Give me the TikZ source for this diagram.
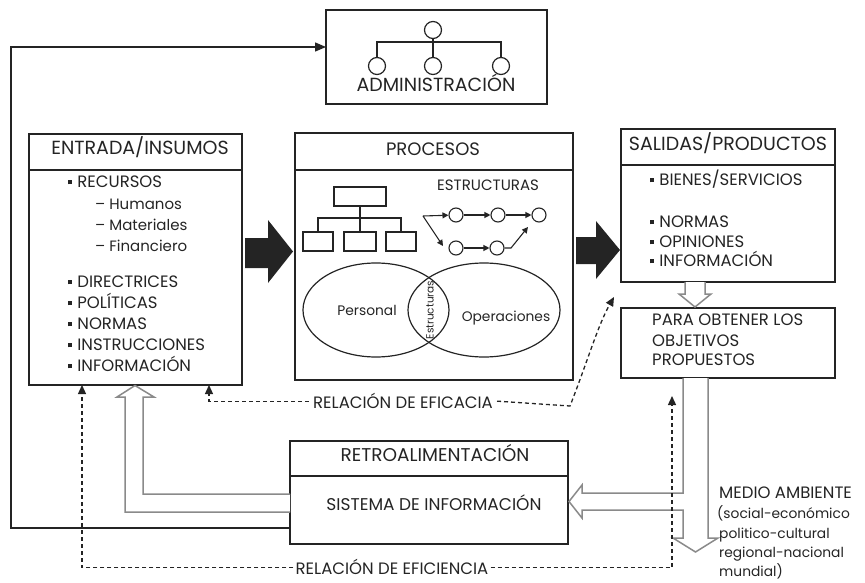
\documentclass[tikz,border=0pt]{standalone}
\usepackage{fontspec}
\setmainfont{Poppins}
\usetikzlibrary{arrows.meta,calc}
\definecolor{ink}{HTML}{242424}
\definecolor{hollowgray}{HTML}{8A8A8A}
\newcommand\sqbul{\raisebox{0.2em}{\rule{4.2pt}{4.2pt}}\hspace{5pt}}
\begin{document}
\begin{tikzpicture}[x=1pt,y=-1pt,
  panel/.style={draw=ink,line width=1.4pt,inner sep=0pt,outer sep=0pt},
  rule/.style={draw=ink,line width=1.4pt},
  title/.style={font=\fontsize{19}{19}\selectfont,text=ink,inner sep=0pt,anchor=mid},
  item/.style={font=\fontsize{16.5}{16.5}\selectfont,text=ink,inner sep=0pt,anchor=mid west},
  sub/.style={font=\fontsize{13.8}{13.8}\selectfont,text=ink,inner sep=0pt,anchor=mid west},
  res/.style={font=\fontsize{15}{15}\selectfont,text=ink,inner sep=0pt,anchor=mid west},
  lbl/.style={font=\fontsize{16.5}{16.5}\selectfont,text=ink,inner sep=0pt,anchor=mid},
  venn/.style={font=\fontsize{13.8}{13.8}\selectfont,text=ink,inner sep=0pt,anchor=mid},
  hollow/.style={draw=hollowgray,line width=1.5pt,fill=white,line join=miter},
  feed/.style={draw=ink,line width=1.3pt,-{Triangle[length=11pt,width=9pt]}},
  dl/.style={draw=ink,line width=1.3pt,dash pattern=on 4pt off 3pt,-{Triangle[length=9pt,width=8pt]}},
  chain/.style={draw=ink,line width=1.1pt,-{Triangle[length=6pt,width=6pt]}},
  ring/.style={circle,draw=ink,line width=1.1pt,minimum size=14pt,inner sep=0pt},
  bigring/.style={circle,draw=ink,line width=1.2pt,minimum size=17pt,inner sep=0pt},
  orgbox/.style={draw=ink,line width=1.1pt,inner sep=0pt},
  orgline/.style={draw=ink,line width=1.1pt}]
\useasboundingbox (0,0) rectangle (865,583);

% ---- main panels ----
\node[panel,minimum width=221pt,minimum height=94pt]  (admin)    at (436.5,57)   {};
\node[panel,minimum width=213pt,minimum height=251pt] (entrada)  at (135.5,259.5) {};
\node[panel,minimum width=278pt,minimum height=247pt] (procesos) at (434,256.5)  {};
\node[panel,minimum width=214pt,minimum height=153pt] (salidas)  at (728,205.5)  {};
\node[panel,minimum width=214pt,minimum height=70pt]  (metas)    at (728,343)    {};
\node[panel,minimum width=278pt,minimum height=103pt] (retro)    at (429,492.5)  {};

% header separators
\draw[rule] (entrada.west |- 0,170) -- (entrada.east |- 0,170);
\draw[rule] (procesos.west |- 0,170) -- (procesos.east |- 0,170);
\draw[rule] (salidas.west |- 0,165) -- (salidas.east |- 0,165);
\draw[rule] (retro.west |- 0,476) -- (retro.east |- 0,476);

% ---- titles ----
\node[title] (tAdmin) at (436,89)  {ADMINISTRACIÓN};
\node[title] (tEnt)   at (140,152) {ENTRADA/INSUMOS};
\node[title,font=\fontsize{18}{18}\selectfont] (tProc) at (433,153) {PROCESOS};
\node[title] (tSal)   at (728,148) {SALIDAS/PRODUCTOS};
\node[title,font=\fontsize{18.5}{18.5}\selectfont] (tRetro) at (435,459) {RETROALIMENTACIÓN};
\node[title,font=\fontsize{17}{17}\selectfont] (tSis) at (434,508) {SISTEMA DE INFORMACIÓN};

% ---- administration org chart ----
\node[bigring] (a0) at (433,30) {};
\node[bigring] (a1) at (377,66) {};
\node[bigring] (a2) at (433,66) {};
\node[bigring] (a3) at (501,66) {};
\draw[orgline] (a0) -- (a2);
\draw[orgline] (a1.north) -- (a1.north |- 0,42) -- (a3.north |- 0,42) -- (a3.north);

% ---- inputs list ----
\node[item] (e1) at (68,185) {\sqbul RECURSOS};
\node[res]  (e2) at (95,207) {– Humanos};
\node[res]  (e3) at (95,228) {– Materiales};
\node[res]  (e4) at (95,249) {– Financiero};
\node[item] (e5) at (68,285) {\sqbul DIRECTRICES};
\node[item] (e6) at (68,306) {\sqbul POLÍTICAS};
\node[item] (e7) at (68,327) {\sqbul NORMAS};
\node[item] (e8) at (68,348) {\sqbul INSTRUCCIONES};
\node[item] (e9) at (68,369) {\sqbul INFORMACIÓN};

% ---- outputs list ----
\node[item] (s1) at (650,183) {\sqbul BIENES/SERVICIOS};
\node[item] (s2) at (650,225) {\sqbul NORMAS};
\node[item] (s3) at (650,245) {\sqbul OPINIONES};
\node[item] (s4) at (650,264) {\sqbul INFORMACIÓN};

\node[item] (m1) at (652,323) {PARA OBTENER LOS};
\node[item] (m2) at (652,344) {OBJETIVOS};
\node[item] (m3) at (652,363) {PROPUESTOS};

% ---- process panel contents ----
\node[orgbox,minimum width=52pt,minimum height=19pt] (p0) at (360,196.5) {};
\node[orgbox,minimum width=30pt,minimum height=19pt] (p1) at (318,241.5) {};
\node[orgbox,minimum width=32pt,minimum height=19pt] (p2) at (360,241.5) {};
\node[orgbox,minimum width=30pt,minimum height=19pt] (p3) at (401,241.5) {};
\draw[orgline] (p0) -- (p2);
\draw[orgline] (p1.north) -- (p1.north |- 0,218) -- (p3.north |- 0,218) -- (p3.north);

\node[item,font=\fontsize{15}{15}\selectfont] (tEst) at (437,188) {ESTRUCTURAS};
\node[ring] (c1) at (456,215) {};
\node[ring] (c2) at (498,215) {};
\node[ring] (c3) at (539,215) {};
\node[ring] (d1) at (456,248) {};
\node[ring] (d2) at (497,248) {};
\coordinate (fork) at (423,216);
\coordinate (dIn) at (443,246);
\coordinate (bend) at (511,248);
\draw[chain] (fork) -- (c1);
\draw[chain] (fork) -- (dIn);
\draw[chain] (c1) -- (c2);
\draw[chain] (c2) -- (c3);
\draw[chain] (d1) -- (d2);
\draw[chain] (d2) -- (bend) -- (528,227);

\draw[ink,line width=1.2pt] (376,310) ellipse [x radius=73, y radius=47];
\draw[ink,line width=1.2pt] (484,310) ellipse [x radius=76, y radius=47];
\node[venn] (vP) at (367,313) {Personal};
\node[venn] (vO) at (506,319) {Operaciones};
\node[venn,rotate=90,font=\fontsize{10.5}{10.5}\selectfont] (vE) at (431,310) {Estructuras};

% ---- big flow arrows ----
\fill[ink] (245,238) -- (268,238) -- (268,220) -- (293,251.5) -- (268,283) -- (268,268) -- (245,268) -- cycle;
\fill[ink] (576,237) -- (596,237) -- (596,221) -- (620,250) -- (596,279) -- (596,264) -- (576,264) -- cycle;

% ---- hollow arrows ----
\draw[hollow] (685,282) -- (685,294) -- (679,294) -- (695,307) -- (711,294) -- (705,294) -- (705,282);
\draw[hollow] (683,378) -- (683,493) -- (582,493) -- (582,485) -- (569,501.5) -- (582,518) -- (582,510)
  -- (683,510) -- (683,538) -- (673,538) -- (695.5,552) -- (718,538) -- (708,538) -- (708,378);
\draw[hollow] (290,512) -- (125,512) -- (125,397) -- (117,397) -- (135,385.5) -- (154,397) -- (143,397)
  -- (143,494) -- (290,494);

% ---- feedback to administration ----
\draw[feed] (retro.west |- 0,528) -- (11,528) -- (11,47) -- (admin.west |- 0,47);

% ---- efficacy / efficiency relations ----
\node[lbl] (efa) at (403,406) {RELACIÓN DE EFICACIA};
\node[lbl] (efi) at (392,572) {RELACIÓN DE EFICIENCIA};
\coordinate (efaEnd) at (614,297);
\coordinate (efiEnd) at (672,396);
\draw[dl] ([xshift=-4pt]efa.west) -| (entrada.south -| 209,0);
\draw[dl] ([xshift=4pt]efa.east) -- (570,406) .. controls (588,360) and (598,325) .. (efaEnd);
\draw[dl] ([xshift=-2pt]efi.west) -| (entrada.south -| 82,0);
\draw[dl] ([xshift=2pt]efi.east) -| (efiEnd);

% ---- environment ----
\node[item] (env0) at (719,496) {MEDIO AMBIENTE};
\node[sub]  (env1) at (717,516) {(social-económico};
\node[sub]  (env2) at (719,536) {politico-cultural};
\node[sub]  (env3) at (719,555) {regional-nacional};
\node[sub]  (env4) at (719,574) {mundial)};
\end{tikzpicture}
\end{document}
